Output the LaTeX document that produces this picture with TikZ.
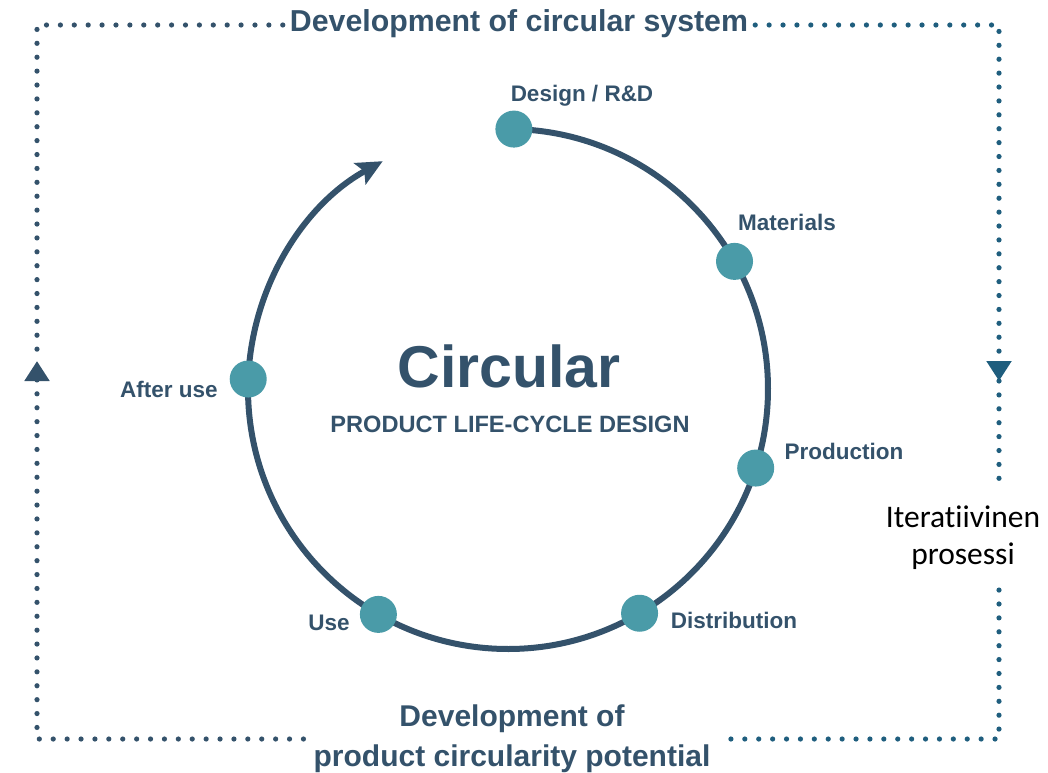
\documentclass[tikz,border=0pt]{standalone}
\usepackage{fontspec}
\setmainfont{Liberation Sans}
\newfontfamily\calfont[Ligatures=NoCommon]{Carlito}
\usetikzlibrary{arrows.meta}
\definecolor{slate}{RGB}{52,82,107}
\definecolor{dotteal}{RGB}{74,155,168}
\definecolor{blueline}{RGB}{31,94,126}
\begin{document}
\begin{tikzpicture}[x=1pt,y=-1pt,
  lbl/.style={font=\bfseries\fontsize{22.5}{27}\selectfont, text=slate, inner sep=0pt},
  stage/.style={circle, fill=dotteal, minimum size=37pt, inner sep=0pt},
  ring/.style={draw=slate, line width=6pt},
  dotL/.style={draw=slate, line width=5.2pt, line cap=round, dash pattern=on 0pt off 13.9pt},
  dotR/.style={dotL, draw=blueline},
  tipL/.style={-{Triangle[length=20pt,width=24pt,fill=slate,color=slate]}},
  tipR/.style={-{Triangle[length=20pt,width=24pt,fill=blueline,color=blueline]}}
]
\useasboundingbox (0,0) rectangle (1048,772);

% ring
\coordinate (c) at (508,389);
\coordinate (ringstart) at ([shift={(-88.7:260)}]c);
\draw[ring, -{Stealth[length=26pt,width=24pt,inset=5pt]}] (ringstart) arc[start angle=-88.7, end angle=241.2, radius=260];

\node[stage] (design) at ([shift={(-88.7:260)}]c) {};
\node[stage] (materials) at ([shift={(-29.4:260)}]c) {};
\node[stage] (production) at ([shift={(17.7:260)}]c) {};
\node[stage] (distribution) at ([shift={(59.6:260)}]c) {};
\node[stage] (use) at ([shift={(119.9:260)}]c) {};
\node[stage] (afteruse) at ([shift={(-177.8:260)}]c) {};

\node[lbl] (ldesign) at (582,96) {Design / R\&D};
\node[lbl] (lmaterials) at (787,222) {Materials};
\node[lbl] (lproduction) at (844,451) {Production};
\node[lbl] (ldistribution) at (734,620) {Distribution};
\node[lbl] (luse) at (329,623) {Use};
\node[lbl] (lafteruse) at (169,389) {After use};

\node[text=slate, font=\bfseries\fontsize{59}{64}\selectfont, inner sep=0pt] (circ) at (509,366) {Circular};
\node[text=slate, font=\bfseries\fontsize{23.6}{28}\selectfont, inner sep=0pt] (plcd) at (510,424) {PRODUCT LIFE-CYCLE DESIGN};

% frame texts
\node[text=slate, font=\bfseries\fontsize{30.3}{34}\selectfont, inner xsep=7pt, inner ysep=2pt] (title) at (519,24) {Development of circular system};
\node[text=slate, font=\bfseries\fontsize{30}{40}\selectfont, align=center, inner xsep=10pt, inner ysep=2pt] (bottom) at (512,739) {Development of\\product circularity potential};
\node[text=black, font=\calfont\fontsize{31.5}{37}\selectfont, align=center, inner xsep=2pt, inner ysep=20pt] (iter) at (963,538) {Iteratiivinen\\prosessi};

% frame coordinates
\coordinate (tl) at (37,25);
\coordinate (bl) at (37,739);
\coordinate (tr) at (999,25);
\coordinate (br) at (999,739);
\coordinate (la) at (37,361);
\coordinate (ra) at (999,381);

\draw[dotL] (title.west |- tl) -- (tl) -- (la);
\draw[dotL, tipL] (bottom.west) -- (bl) -- (la);
\draw[dotR, tipR] (title.east |- tr) -- (tr) -- (ra);
\draw[dotR] (ra) -- (ra |- iter.north);
\draw[dotR] (br |- iter.south) -- (br) -- (bottom.east);
\end{tikzpicture}
\end{document}
